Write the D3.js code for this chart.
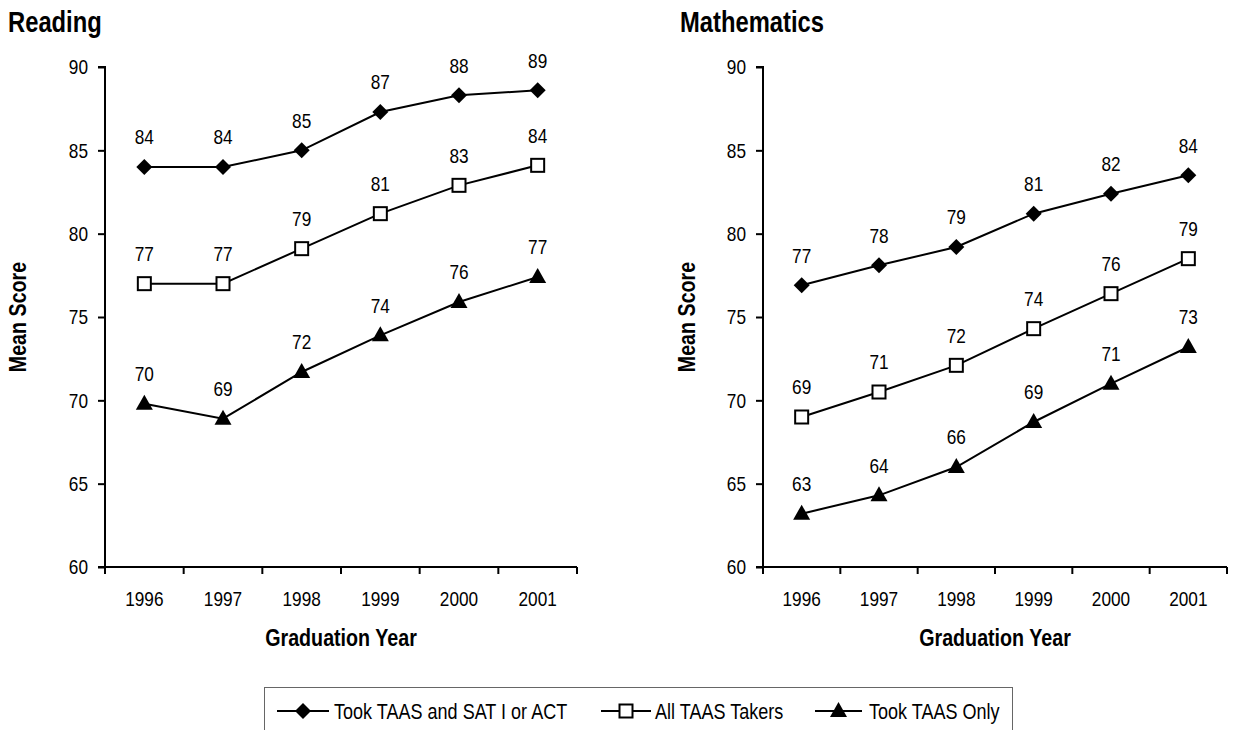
<!DOCTYPE html>
<html><head><meta charset="utf-8">
<script src="https://cdn.jsdelivr.net/npm/d3@7"></script>
<style>
body{margin:0;background:#fff;}
svg{display:block;}
text{font-family:"Liberation Sans",Arial,sans-serif;fill:#000;}
</style></head><body>
<svg id="c" width="1242" height="730"></svg>
<script>
const years = ["1996","1997","1998","1999","2000","2001"];
const yTicks = [60,65,70,75,80,85,90];
const seriesNames = ["Took TAAS and SAT I or ACT","All TAAS Takers","Took TAAS Only"];
const readingSatAct = [84.0,84.0,85.0,87.3,88.3,88.6];
const readingAll    = [77.0,77.0,79.1,81.2,82.9,84.1];
const readingOnly   = [69.8,68.9,71.7,73.9,75.9,77.4];
const mathSatAct = [76.9,78.1,79.2,81.2,82.4,83.5];
const mathAll    = [69.0,70.5,72.1,74.3,76.4,78.5];
const mathOnly   = [63.2,64.3,66.0,68.7,71.0,73.2];

const svg = d3.select("#c");
const FONT = '"Liberation Sans",Arial,sans-serif';
const NARROW = 0.82;

function drawMarker(g, i, x, y){
  if(i===0){
    g.append("path").attr("d",`M${x},${y-8}L${x+8},${y}L${x},${y+8}L${x-8},${y}Z`).attr("fill","#000");
  } else if(i===1){
    g.append("rect").attr("x",x-6.5).attr("y",y-6.5).attr("width",13).attr("height",13)
      .attr("fill","#fff").attr("stroke","#000").attr("stroke-width",2);
  } else {
    g.append("path").attr("d",`M${x},${y-9}L${x+8.5},${y+6}L${x-8.5},${y+6}Z`).attr("fill","#000");
  }
}

function panel(title, titleX, x0, x1, yLabelX, data){
  const g = svg.append("g");
  const x = d3.scaleBand().domain(years).range([x0,x1]).padding(0);
  const y = d3.scaleLinear().domain([60,90]).range([567,67]);
  const cx = d => x(d)+x.bandwidth()/2;

  g.append("text").attr("x",titleX).attr("y",32).attr("font-size",29).attr("font-weight","bold").text(title);

  const ya = g.append("g").attr("transform",`translate(${x0},0)`)
    .call(d3.axisLeft(y).tickValues(yTicks).tickSize(7).tickPadding(10).tickFormat(d3.format("d")));
  ya.select(".domain").attr("stroke","#000").attr("stroke-width",2).attr("d",`M-7,67H0V567`);
  ya.selectAll(".tick line").attr("stroke","#000").attr("stroke-width",2);
  ya.selectAll(".tick text").attr("font-size",21).attr("font-family",FONT);

  const xa = g.append("g").attr("transform",`translate(0,567)`)
    .call(d3.axisBottom(x).tickSize(0).tickPadding(24));
  xa.select(".domain").remove();
  xa.selectAll(".tick text").attr("font-size",21).attr("font-family",FONT);
  g.append("line").attr("x1",x0-7).attr("x2",x1).attr("y1",567).attr("y2",567).attr("stroke","#000").attr("stroke-width",2);
  const bounds = years.map(d=>x(d)).concat([x1]);
  g.selectAll(".bt").data(bounds).enter().append("line")
    .attr("x1",d=>d).attr("x2",d=>d).attr("y1",567).attr("y2",574).attr("stroke","#000").attr("stroke-width",2);

  g.append("text").attr("x",(x0+x1)/2).attr("y",646).attr("text-anchor","middle")
    .attr("font-size",24).attr("font-weight","bold").text("Graduation Year");
  g.append("g").attr("transform",`translate(${yLabelX},317) rotate(-90)`)
    .append("text").attr("text-anchor","middle")
    .attr("dy","0.35em").attr("font-size",24).attr("font-weight","bold").text("Mean Score");

  const line = d3.line().x((v,i)=>cx(years[i])).y(v=>y(v));
  data.forEach((vals,si)=>{
    g.append("path").attr("d",line(vals)).attr("fill","none").attr("stroke","#000").attr("stroke-width",2);
    vals.forEach((v,i)=>{
      drawMarker(g, si, cx(years[i]), y(v));
      g.append("text").attr("x",cx(years[i])).attr("y",y(v)-30).attr("dy","0.35em")
        .attr("text-anchor","middle").attr("font-size",21).text(Math.round(v));
    });
  });
}

panel("Reading", 8, 105, 577, 18, [readingSatAct, readingAll, readingOnly]);
panel("Mathematics", 680, 763, 1227, 687, [mathSatAct, mathAll, mathOnly]);

const lg = svg.append("g");
lg.append("rect").attr("x",264.5).attr("y",687.5).attr("width",748).attr("height",60)
  .attr("fill","#fff").attr("stroke","#666").attr("stroke-width",1);
const legItems = [
  {lx0:277, lx1:329, tx:334},
  {lx0:601, lx1:651, tx:655},
  {lx0:815, lx1:862, tx:869}
];
seriesNames.forEach((n,i)=>{
  const it = legItems[i];
  lg.append("line").attr("x1",it.lx0).attr("x2",it.lx1).attr("y1",711).attr("y2",711).attr("stroke","#000").attr("stroke-width",2);
  drawMarker(lg, i, (it.lx0+it.lx1)/2, 711);
  lg.append("text").attr("x",it.tx).attr("y",711).attr("dy","0.35em").attr("font-size",22).text(n);
});

// condense all text horizontally (narrow typeface look)
svg.selectAll("text").each(function(){
  const t = d3.select(this);
  const x = +(t.attr("x")||0), y = +(t.attr("y")||0);
  t.attr("x",0).attr("y",0).attr("transform",`translate(${x},${y}) scale(${NARROW},1)`);
});
</script></body></html>
